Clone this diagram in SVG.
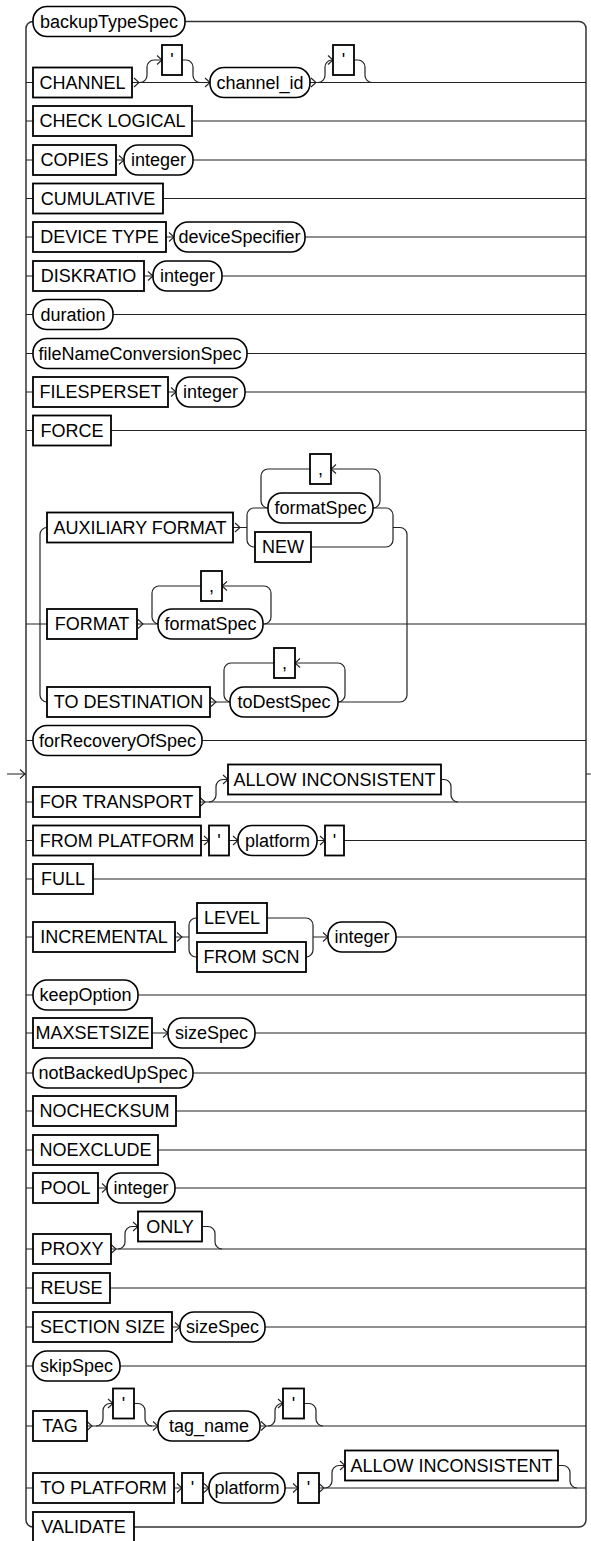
<svg xmlns="http://www.w3.org/2000/svg" width="591" height="1541" viewBox="0 0 591 1541">
<style>
.l{fill:none;stroke:#222;stroke-width:1.2}
.r{fill:none;stroke:#333;stroke-width:1.5}
.a{fill:none;stroke:#222;stroke-width:1.1}
.t{fill:#fff;stroke:#000;stroke-width:1.8}
.n{fill:#fff;stroke:#000;stroke-width:1.6}
text{font-family:"Liberation Sans",Arial,sans-serif;font-size:18px;text-anchor:middle;fill:#000}
</style>
<rect width="591" height="1541" fill="#fff"/>
<g id="connectors">
<path class="r" d="M33,21.5 a7,7 0 0 0 -7,7 V1520 a7,7 0 0 0 7,7"/>
<path class="r" d="M185,21.5 H579 a7,7 0 0 1 7,7 V1520 a7,7 0 0 1 -7,7 H134"/>
<path class="l" d="M7,774 H26 M586,774 H591"/>
<path class="l" d="M26,82.5 H33 M132,82.5 H210 M310,82.5 H586"/>
<path class="l" d="M140,82.5 a7,7 0 0 0 7,-7 V67 a7,7 0 0 1 7,-7 H162 M182,60 H186 a7,7 0 0 1 7,7 V75.5 a7,7 0 0 0 7,7"/>
<path class="l" d="M318,82.5 a7,7 0 0 0 7,-7 V67 a7,7 0 0 1 7,-7 H333 M354,60 H358 a7,7 0 0 1 7,7 V75.5 a7,7 0 0 0 7,7"/>
<path class="l" d="M26,121 H33 M192,121 H586"/>
<path class="l" d="M26,160 H33 M116,160 H124 M193,160 H586"/>
<path class="l" d="M26,198.5 H33 M163,198.5 H586"/>
<path class="l" d="M26,237 H33 M166,237 H174 M305,237 H586"/>
<path class="l" d="M26,276 H33 M144,276 H153 M222,276 H586"/>
<path class="l" d="M26,314.5 H33 M113,314.5 H586"/>
<path class="l" d="M26,353.5 H33 M247,353.5 H586"/>
<path class="l" d="M26,392 H33 M168,392 H176 M245,392 H586"/>
<path class="l" d="M26,430.5 H33 M111,430.5 H586"/>
<path class="l" d="M47,527.5 a7,7 0 0 0 -7,7 V695 a7,7 0 0 0 7,7"/>
<path class="l" d="M393,527.5 H400 a7,7 0 0 1 7,7 V695"/>
<path class="l" d="M233,527.5 H247 V515 a7,7 0 0 1 7,-7 H268 M247,527.5 V540 a7,7 0 0 0 7,7 H255"/>
<path class="l" d="M373,508 a7,7 0 0 0 7,-7 V476 a7,7 0 0 0 -7,-7 H331 M310,469 H268 a7,7 0 0 0 -7,7 V501 a7,7 0 0 0 7,7"/>
<path class="l" d="M373,508 H386 a7,7 0 0 1 7,7 V527.5 M311,547 H386 a7,7 0 0 0 7,-7 V527.5"/>
<path class="l" d="M26,624 H47 M137,624 H158 M263,624 H586"/>
<path class="l" d="M264,624 a7,7 0 0 0 7,-7 V593 a7,7 0 0 0 -7,-7 H222 M201,586 H159 a7,7 0 0 0 -7,7 V617 a7,7 0 0 0 7,7"/>
<path class="l" d="M210,702 H230 M338,702 H400 a7,7 0 0 0 7,-7"/>
<path class="l" d="M338,702 a7,7 0 0 0 7,-7 V670 a7,7 0 0 0 -7,-7 H295 M274,663 H231 a7,7 0 0 0 -7,7 V695 a7,7 0 0 0 7,7"/>
<path class="l" d="M26,740.5 H33 M202,740.5 H586"/>
<path class="l" d="M26,802 H33 M200,802 H586"/>
<path class="l" d="M209,802 a7,7 0 0 0 7,-7 V786.5 a7,7 0 0 1 7,-7 H228 M441,779.5 H444 a7,7 0 0 1 7,7 V795 a7,7 0 0 0 7,7"/>
<path class="l" d="M26,840.5 H33 M201,840.5 H209 M229,840.5 H238 M317,840.5 H325 M344,840.5 H586"/>
<path class="l" d="M26,879 H33 M93,879 H586"/>
<path class="l" d="M26,937 H33 M175,937 H189 V925 a7,7 0 0 1 7,-7 H197 M189,937 V950 a7,7 0 0 0 7,7 H197"/>
<path class="l" d="M267,918 H306 a7,7 0 0 1 7,7 V937 M306,957 a7,7 0 0 0 7,-7 V937 H328 M396,937 H586"/>
<path class="l" d="M26,995 H33 M138,995 H586"/>
<path class="l" d="M26,1033 H33 M152,1033 H168 M255,1033 H586"/>
<path class="l" d="M26,1073 H33 M193,1073 H586"/>
<path class="l" d="M26,1111 H33 M176,1111 H586"/>
<path class="l" d="M26,1150 H33 M158,1150 H586"/>
<path class="l" d="M26,1188 H33 M98,1188 H107 M175,1188 H586"/>
<path class="l" d="M26,1249 H33 M111,1249 H586"/>
<path class="l" d="M118,1249 a7,7 0 0 0 7,-7 V1233.5 a7,7 0 0 1 7,-7 H138 M202,1226.5 H208 a7,7 0 0 1 7,7 V1242 a7,7 0 0 0 7,7"/>
<path class="l" d="M26,1288 H33 M110,1288 H586"/>
<path class="l" d="M26,1327 H33 M172,1327 H180 M265,1327 H586"/>
<path class="l" d="M26,1366 H33 M120,1366 H586"/>
<path class="l" d="M26,1426 H33 M87,1426 H158 M260,1426 H586"/>
<path class="l" d="M96,1426 a7,7 0 0 0 7,-7 V1410.5 a7,7 0 0 1 7,-7 H113 M134,1403.5 H138 a7,7 0 0 1 7,7 V1419 a7,7 0 0 0 7,7"/>
<path class="l" d="M268,1426 a7,7 0 0 0 7,-7 V1410.5 a7,7 0 0 1 7,-7 H283 M304,1403.5 H309 a7,7 0 0 1 7,7 V1419 a7,7 0 0 0 7,7"/>
<path class="l" d="M26,1488 H33 M174,1488 H182 M203,1488 H209 M285,1488 H298 M319,1488 H586"/>
<path class="l" d="M325,1488 a7,7 0 0 0 7,-7 V1472.5 a7,7 0 0 1 7,-7 H345 M558,1465.5 H563 a7,7 0 0 1 7,7 V1481 a7,7 0 0 0 7,7"/>
<path class="a" d="M20,769.5 L25,774 L20,778.5
M134,78 L139,82.5 L134,87 M157,55.5 L162,60 L157,64.5 M205,78 L210,82.5 L205,87 M311,78 L316,82.5 L311,87 M328,55.5 L333,60 L328,64.5
M119,155.5 L124,160 L119,164.5 M169,232.5 L174,237 L169,241.5 M148,271.5 L153,276 L148,280.5 M171,387.5 L176,392 L171,396.5
M235,523 L240,527.5 L235,532 M138,619.5 L143,624 L138,628.5 M211,697.5 L216,702 L211,706.5
M336,464.5 L331,469 L336,473.5 M227,581.5 L222,586 L227,590.5 M300,658.5 L295,663 L300,667.5
M200,797.5 L205,802 L200,806.5 M223,775 L228,779.5 L223,784
M204,836 L209,840.5 L204,845 M233,836 L238,840.5 L233,845 M320,836 L325,840.5 L320,845
M177,932.5 L182,937 L177,941.5 M323,932.5 L328,937 L323,941.5
M163,1028.5 L168,1033 L163,1037.5 M102,1183.5 L107,1188 L102,1192.5
M111,1244.5 L116,1249 L111,1253.5 M133,1222 L138,1226.5 L133,1231
M175,1322.5 L180,1327 L175,1331.5
M87,1421.5 L92,1426 L87,1430.5 M108,1399 L113,1403.5 L108,1408 M153,1421.5 L158,1426 L153,1430.5 M261,1421.5 L266,1426 L261,1430.5 M278,1399 L283,1403.5 L278,1408
M177,1483.5 L182,1488 L177,1492.5 M204,1483.5 L209,1488 L204,1492.5 M293,1483.5 L298,1488 L293,1492.5 M319,1483.5 L324,1488 L319,1492.5 M340,1461 L345,1465.5 L340,1470"/>
</g>
<g id="nodes">
<g id="backupTypeSpec"><rect class="n" x="33" y="6.5" width="152" height="30" rx="14"/><text x="109" y="27.5">backupTypeSpec</text></g>
<g id="channel"><rect class="t" x="33" y="67.5" width="99" height="30"/><text x="82.5" y="88.5">CHANNEL</text></g>
<g id="channel-q1"><rect class="t" x="162" y="45" width="20" height="30"/><text x="172" y="66">'</text></g>
<g id="channel_id"><rect class="n" x="210" y="67.5" width="100" height="30" rx="14"/><text x="260" y="88.5">channel_id</text></g>
<g id="channel-q2"><rect class="t" x="333" y="45" width="21" height="30"/><text x="343.5" y="66">'</text></g>
<g id="check-logical"><rect class="t" x="33" y="106" width="159" height="30"/><text x="112.5" y="127">CHECK LOGICAL</text></g>
<g id="copies"><rect class="t" x="33" y="145" width="83" height="30"/><text x="74.5" y="166">COPIES</text></g>
<g id="copies-integer"><rect class="n" x="124" y="145" width="69" height="30" rx="14"/><text x="158.5" y="166">integer</text></g>
<g id="cumulative"><rect class="t" x="33" y="183.5" width="130" height="30"/><text x="98" y="204.5">CUMULATIVE</text></g>
<g id="device-type"><rect class="t" x="33" y="222" width="133" height="30"/><text x="99.5" y="243">DEVICE TYPE</text></g>
<g id="deviceSpecifier"><rect class="n" x="174" y="222" width="131" height="30" rx="14"/><text x="239.5" y="243">deviceSpecifier</text></g>
<g id="diskratio"><rect class="t" x="33" y="261" width="111" height="30"/><text x="88.5" y="282">DISKRATIO</text></g>
<g id="diskratio-integer"><rect class="n" x="153" y="261" width="69" height="30" rx="14"/><text x="187.5" y="282">integer</text></g>
<g id="duration"><rect class="n" x="33" y="299.5" width="80" height="30" rx="14"/><text x="73" y="320.5">duration</text></g>
<g id="fileNameConversionSpec"><rect class="n" x="33" y="338.5" width="214" height="30" rx="14"/><text x="140" y="359.5">fileNameConversionSpec</text></g>
<g id="filesperset"><rect class="t" x="33" y="377" width="135" height="30"/><text x="100.5" y="398">FILESPERSET</text></g>
<g id="filesperset-integer"><rect class="n" x="176" y="377" width="69" height="30" rx="14"/><text x="210.5" y="398">integer</text></g>
<g id="force"><rect class="t" x="33" y="415.5" width="78" height="30"/><text x="72" y="436.5">FORCE</text></g>
<g id="auxiliary-format"><rect class="t" x="47" y="512.5" width="186" height="30"/><text x="140" y="533.5">AUXILIARY FORMAT</text></g>
<g id="aux-comma"><rect class="t" x="310" y="454" width="21" height="30"/><text x="320.5" y="475">,</text></g>
<g id="aux-formatSpec"><rect class="n" x="268" y="493" width="105" height="30" rx="14"/><text x="320.5" y="514">formatSpec</text></g>
<g id="new"><rect class="t" x="255" y="532" width="56" height="30"/><text x="283" y="553">NEW</text></g>
<g id="format"><rect class="t" x="47" y="609" width="90" height="30"/><text x="92" y="630">FORMAT</text></g>
<g id="format-comma"><rect class="t" x="201" y="571" width="21" height="30"/><text x="211.5" y="592">,</text></g>
<g id="format-formatSpec"><rect class="n" x="158" y="609" width="105" height="30" rx="14"/><text x="210.5" y="630">formatSpec</text></g>
<g id="to-destination"><rect class="t" x="47" y="687" width="163" height="30"/><text x="128.5" y="708">TO DESTINATION</text></g>
<g id="todest-comma"><rect class="t" x="274" y="648" width="21" height="30"/><text x="284.5" y="669">,</text></g>
<g id="toDestSpec"><rect class="n" x="230" y="687" width="108" height="30" rx="14"/><text x="284" y="708">toDestSpec</text></g>
<g id="forRecoveryOfSpec"><rect class="n" x="33" y="725.5" width="169" height="30" rx="14"/><text x="117.5" y="746.5">forRecoveryOfSpec</text></g>
<g id="for-transport"><rect class="t" x="33" y="787" width="167" height="30"/><text x="116.5" y="808">FOR TRANSPORT</text></g>
<g id="transport-allow"><rect class="t" x="228" y="764.5" width="213" height="30"/><text x="334.5" y="785.5">ALLOW INCONSISTENT</text></g>
<g id="from-platform"><rect class="t" x="33" y="825.5" width="168" height="30"/><text x="117" y="846.5">FROM PLATFORM</text></g>
<g id="from-q1"><rect class="t" x="209" y="825.5" width="20" height="30"/><text x="219" y="846.5">'</text></g>
<g id="from-platform-name"><rect class="n" x="238" y="825.5" width="79" height="30" rx="14"/><text x="277.5" y="846.5">platform</text></g>
<g id="from-q2"><rect class="t" x="325" y="825.5" width="19" height="30"/><text x="334.5" y="846.5">'</text></g>
<g id="full"><rect class="t" x="33" y="864" width="60" height="30"/><text x="63" y="885">FULL</text></g>
<g id="incremental"><rect class="t" x="33" y="922" width="142" height="30"/><text x="104" y="943">INCREMENTAL</text></g>
<g id="level"><rect class="t" x="197" y="903" width="70" height="30"/><text x="232" y="924">LEVEL</text></g>
<g id="from-scn"><rect class="t" x="197" y="942" width="109" height="30"/><text x="251.5" y="963">FROM SCN</text></g>
<g id="incremental-integer"><rect class="n" x="328" y="922" width="68" height="30" rx="14"/><text x="362" y="943">integer</text></g>
<g id="keepOption"><rect class="n" x="33" y="980" width="105" height="30" rx="14"/><text x="85.5" y="1001">keepOption</text></g>
<g id="maxsetsize"><rect class="t" x="33" y="1018" width="119" height="30"/><text x="92.5" y="1039">MAXSETSIZE</text></g>
<g id="maxsetsize-sizeSpec"><rect class="n" x="168" y="1018" width="87" height="30" rx="14"/><text x="211.5" y="1039">sizeSpec</text></g>
<g id="notBackedUpSpec"><rect class="n" x="33" y="1058" width="160" height="30" rx="14"/><text x="113" y="1079">notBackedUpSpec</text></g>
<g id="nochecksum"><rect class="t" x="33" y="1096" width="143" height="30"/><text x="104.5" y="1117">NOCHECKSUM</text></g>
<g id="noexclude"><rect class="t" x="33" y="1135" width="125" height="30"/><text x="95.5" y="1156">NOEXCLUDE</text></g>
<g id="pool"><rect class="t" x="33" y="1173" width="65" height="30"/><text x="65.5" y="1194">POOL</text></g>
<g id="pool-integer"><rect class="n" x="107" y="1173" width="68" height="30" rx="14"/><text x="141" y="1194">integer</text></g>
<g id="proxy"><rect class="t" x="33" y="1234" width="78" height="30"/><text x="72" y="1255">PROXY</text></g>
<g id="only"><rect class="t" x="138" y="1211.5" width="64" height="30"/><text x="170" y="1232.5">ONLY</text></g>
<g id="reuse"><rect class="t" x="33" y="1273" width="77" height="30"/><text x="71.5" y="1294">REUSE</text></g>
<g id="section-size"><rect class="t" x="33" y="1312" width="139" height="30"/><text x="102.5" y="1333">SECTION SIZE</text></g>
<g id="section-sizeSpec"><rect class="n" x="180" y="1312" width="85" height="30" rx="14"/><text x="222.5" y="1333">sizeSpec</text></g>
<g id="skipSpec"><rect class="n" x="33" y="1351" width="87" height="30" rx="14"/><text x="76.5" y="1372">skipSpec</text></g>
<g id="tag"><rect class="t" x="33" y="1411" width="54" height="30"/><text x="60" y="1432">TAG</text></g>
<g id="tag-q1"><rect class="t" x="113" y="1388.5" width="21" height="30"/><text x="123.5" y="1409.5">'</text></g>
<g id="tag_name"><rect class="n" x="158" y="1411" width="102" height="30" rx="14"/><text x="209" y="1432">tag_name</text></g>
<g id="tag-q2"><rect class="t" x="283" y="1388.5" width="21" height="30"/><text x="293.5" y="1409.5">'</text></g>
<g id="to-platform"><rect class="t" x="33" y="1473" width="141" height="30"/><text x="103.5" y="1494">TO PLATFORM</text></g>
<g id="to-q1"><rect class="t" x="182" y="1473" width="21" height="30"/><text x="192.5" y="1494">'</text></g>
<g id="to-platform-name"><rect class="n" x="209" y="1473" width="76" height="30" rx="14"/><text x="247" y="1494">platform</text></g>
<g id="to-q2"><rect class="t" x="298" y="1473" width="21" height="30"/><text x="308.5" y="1494">'</text></g>
<g id="to-platform-allow"><rect class="t" x="345" y="1450.5" width="213" height="30"/><text x="451.5" y="1471.5">ALLOW INCONSISTENT</text></g>
<g id="validate"><rect class="t" x="33" y="1512" width="101" height="32"/><text x="83.5" y="1533">VALIDATE</text></g>
</g>
</svg>
